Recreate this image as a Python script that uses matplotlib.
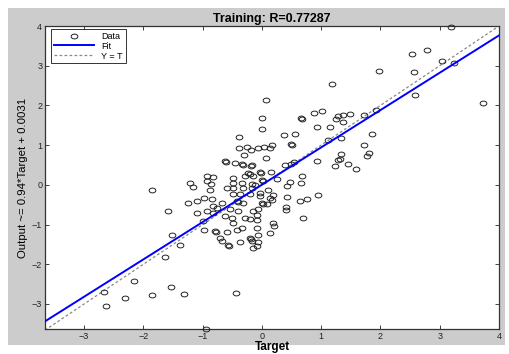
import numpy as np
import matplotlib
matplotlib.use("Agg")
import matplotlib.pyplot as plt
from matplotlib.path import Path
from matplotlib.patches import Rectangle

plt.rcParams['font.family'] = ['Liberation Sans', 'DejaVu Sans']

title = "Training: R=0.77287"
xlabel = "Target"
ylabel = "Output ~= 0.94*Target + 0.0031"
fit_slope = 0.94
fit_intercept = 0.0031
xlim = (-3.66, 4.0)
ylim = (-3.63, 4.0)
xticks = [-3, -2, -1, 0, 1, 2, 3, 4]
yticks = [-3, -2, -1, 0, 1, 2, 3, 4]

target = [
    3.19, 2.78, 2.54, 3.03, 3.24, 2.56, 1.97, 1.19, 2.59, 3.73,
    0.07, 0.00, 0.00, 0.66, 0.67, 0.88, 1.02, 0.93, 1.15, 1.29,
    1.36, 1.49, 1.25, 1.37, 1.73, 1.92, 1.86, 1.73, 1.80, 1.78,
    1.58, 1.46, 1.29, 1.34, 1.24, 0.93, 1.34, 1.12, 0.56, 0.37,
    0.49, 0.50, 0.17, 0.03, 0.14, -0.07, 0.07, 0.39, 0.49, 0.54,
    0.15, -0.03, -0.02, 0.68, 1.32,
    -0.39, -0.39, -0.25, -0.19, -0.31, -0.63, -0.61, -0.46, -0.34, -0.32,
    -0.19, -0.24, -0.92, -0.83, -0.17,
    -0.49, -0.29, -0.20, -0.15, -1.22, -0.92, -0.86, -0.49, -0.34, -0.17,
    0.00, 0.02, 0.25, 0.42, 0.47, 0.66, -1.17, -0.88, -0.59, -0.49,
    -0.32, -0.17, -0.03, 0.10, -0.49, -0.37, -0.20, -0.03, 0.14, 0.17,
    0.42, -1.10, -0.97, -0.85, -0.68, -0.42, -0.41, -0.32, 0.00, 0.02,
    0.08, 0.64, 0.76, 0.95, -0.12, 0.19, -1.10, -0.83, -0.83, -0.54,
    -0.41, -0.15, -0.07, 0.41, 0.41, -1.25, -0.92, -0.75, -0.08, -0.63,
    -0.51, -0.29, -0.20, -0.08, -0.49, 0.19, 0.20, 0.69, -1.00, -0.97,
    -0.80, -0.78, -0.59, -0.42, -0.34, -0.08, 0.14, -0.07, -0.71, -0.68,
    -0.58, -0.56, -0.37, -0.20, -0.19, -0.17, -0.07, -0.08, -0.15,
    -1.86, -1.59, -1.51, -1.39, -1.63, -2.15, -2.66, -2.63, -2.31, -1.86,
    -1.53, -1.32, -0.44, -0.95,
]
output = [
    3.98, 3.40, 3.30, 3.12, 3.07, 2.85, 2.87, 2.54, 2.27, 2.07,
    2.14, 1.69, 1.41, 1.69, 1.67, 1.81, 1.86, 1.46, 1.46, 1.74,
    1.76, 1.79, 1.66, 1.59, 1.76, 1.89, 1.28, 1.01, 0.81, 0.73,
    0.40, 0.53, 0.63, 0.78, 0.48, 0.60, 1.18, 1.13, 1.28, 1.26,
    1.03, 1.01, 1.01, 0.96, 0.93, 0.93, 0.68, 0.50, 0.53, 0.58,
    0.33, 0.33, 0.30, 0.23, 0.65,
    1.21, 0.93, 0.96, 0.88, 0.76, 0.60, 0.58, 0.55, 0.53, 0.50,
    0.48, 0.30, 0.23, 0.20, 0.50,
    0.18, 0.23, 0.28, 0.23, 0.05, 0.10, 0.03, 0.05, 0.05, 0.03,
    0.13, 0.10, 0.15, -0.03, 0.08, 0.05, -0.05, -0.13, -0.08, -0.08,
    -0.08, -0.08, -0.20, -0.13, -0.23, -0.23, -0.23, -0.28, -0.33, -0.38,
    -0.30, -0.40, -0.33, -0.35, -0.45, -0.40, -0.43, -0.45, -0.45, -0.48,
    -0.48, -0.40, -0.35, -0.25, 0.00, -0.25, -0.71, -0.53, -0.71, -0.60,
    -0.65, -0.65, -0.60, -0.55, -0.63, -0.45, -0.65, -0.58, -0.76, -0.78,
    -0.83, -0.83, -0.86, -0.88, -0.96, -0.96, -1.03, -0.83, -0.91, -1.13,
    -1.16, -1.18, -1.18, -1.13, -1.08, -1.08, -1.21, -1.26, -1.34, -1.41,
    -1.51, -1.54, -1.44, -1.34, -1.36, -1.41, -1.44, -1.54, -1.59,
    -0.13, -0.65, -1.26, -1.51, -1.81, -2.42, -2.70, -3.05, -2.85, -2.77,
    -2.57, -2.75, -2.72, -3.62,
]

# slightly flattened circle marker
t = np.linspace(0, 2 * np.pi, 40)
ell = Path(np.column_stack([np.cos(t), 0.72 * np.sin(t)]), closed=True)

fig = plt.figure(figsize=(5.10, 3.54), dpi=100, facecolor='white')
fig.patches.append(Rectangle((8 / 510, 1 - 345 / 354), 497 / 510, 337 / 354,
                             transform=fig.transFigure, facecolor='#cccccc',
                             edgecolor='none', zorder=-10))
ax = fig.add_axes([45 / 510, 1 - 329 / 354, 454 / 510, 303 / 354])
ax.set_facecolor('white')

ax.plot(target, output, linestyle='none', marker=ell, markersize=4.8,
        markerfacecolor='none', markeredgecolor='#222222', markeredgewidth=0.7,
        label='Data', clip_on=False, zorder=3)
xs = np.array(xlim)
ax.plot(xs, fit_slope * xs + fit_intercept, color='#0000ff', lw=1.4, label='Fit', zorder=4)
ax.plot(xs, xs, color='#888888', lw=0.9, linestyle=(0, (2.2, 1.8)), label='Y = T', zorder=2)

ax.set_xlim(*xlim)
ax.set_ylim(*ylim)
ax.set_xticks(xticks)
ax.set_yticks(yticks)
ax.tick_params(direction='in', length=3, width=0.6, labelsize=6.5, top=True, right=True,
               colors='#222222', pad=2)
for s in ax.spines.values():
    s.set_linewidth(0.9)
    s.set_color('#333333')

ax.set_title(title, fontsize=9, fontweight='bold', pad=3)
ax.set_xlabel(xlabel, fontsize=8.5, fontweight='bold', labelpad=0)
ax.set_ylabel(ylabel, fontsize=8.2, labelpad=3)

leg = ax.legend(loc='upper left', bbox_to_anchor=(0.013, 0.99), borderaxespad=0,
                fontsize=6.5, frameon=True, fancybox=False, edgecolor='black',
                handlelength=4.5, handletextpad=0.8, borderpad=0.3, labelspacing=0.1)
leg.get_frame().set_linewidth(0.7)

fig.savefig('out.png', dpi=100, facecolor='white')
